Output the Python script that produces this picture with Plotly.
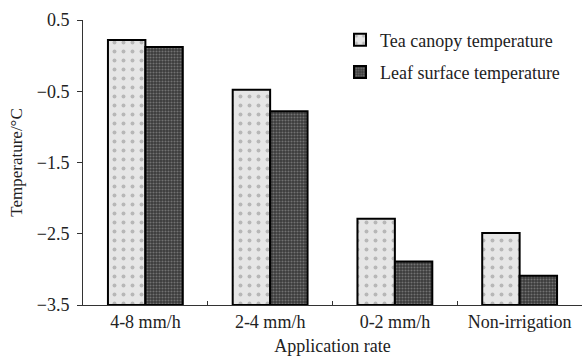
import plotly.graph_objects as go

categories = ["4-8 mm/h", "2-4 mm/h", "0-2 mm/h", "Non-irrigation"]
tea_canopy = [0.22, -0.48, -2.29, -2.49]
leaf_surface = [0.12, -0.78, -2.89, -3.09]
y_ticks = [0.5, -0.5, -1.5, -2.5, -3.5]
base_value = -3.5

font_family = "Liberation Serif, Times New Roman, serif"

fig = go.Figure()
fig.add_trace(go.Bar(
    name="Tea canopy temperature",
    legendgroup="a",
    x=categories,
    y=[v - base_value for v in tea_canopy],
    base=base_value,
    marker=dict(
        color="#e6e6e6",
        line=dict(color="black", width=2),
        pattern=dict(shape=".", fgcolor="#888888", bgcolor="#e6e6e6", size=9, solidity=0.15),
    ),
))
fig.add_trace(go.Bar(
    name="Leaf surface temperature",
    legendgroup="b",
    x=categories,
    y=[v - base_value for v in leaf_surface],
    base=base_value,
    marker=dict(
        color="#555555",
        line=dict(color="black", width=2),
        pattern=dict(shape=".", fgcolor="#aaaaaa", bgcolor="#3a3a3a", size=3, solidity=0.4),
    ),
))

fig.update_layout(
    width=582, height=360,
    margin=dict(l=83, r=0, t=20, b=55),
    paper_bgcolor="white", plot_bgcolor="white",
    barmode="group", bargap=0.4, bargroupgap=0,
    font=dict(family=font_family, size=18, color="#222222"),
    legend=dict(x=0.515, y=0.995, xanchor="left", yanchor="top",
                bgcolor="rgba(0,0,0,0)", font=dict(size=18),
                itemwidth=30, tracegroupgap=6),
    showlegend=True,
)
fig.update_xaxes(
    type="category", tickson="boundaries", ticks="inside", ticklen=4,
    tickcolor="#333", showline=True, linecolor="#333", linewidth=1,
    showgrid=False, tickfont=dict(size=18),
    title=dict(text="Application rate", font=dict(size=18), standoff=8),
)
fig.update_yaxes(
    range=[-3.5, 0.5], tickvals=y_ticks, ticks="outside", ticklen=5,
    ticklabelstandoff=4,
    tickcolor="#333", showline=True, linecolor="#333", linewidth=1,
    showgrid=False, zeroline=False, tickfont=dict(size=18),
    title=dict(text="Temperature/°C", font=dict(size=17), standoff=9),
)

fig.write_html("out.html")
